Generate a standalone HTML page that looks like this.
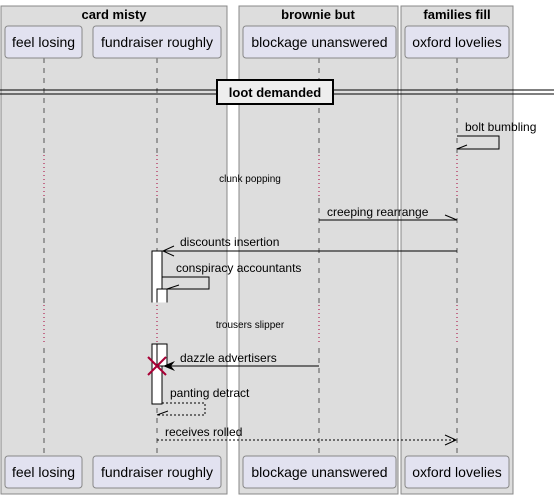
<!DOCTYPE html>
<html><head><meta charset="utf-8"><style>
html,body{margin:0;padding:0;background:#fff;}
svg{display:block;font-family:"Liberation Sans",sans-serif;}
</style></head><body>
<svg width="554" height="499" viewBox="0 0 554 499" xmlns="http://www.w3.org/2000/svg">
<rect x="1" y="6" width="226" height="488" fill="#dddddd" stroke="#888" stroke-width="1"/>
<rect x="239" y="6" width="159" height="488" fill="#dddddd" stroke="#888" stroke-width="1"/>
<rect x="401" y="6" width="112" height="488" fill="#dddddd" stroke="#888" stroke-width="1"/>
<g font-weight="bold" font-size="13" text-anchor="middle" fill="#000">
<text x="114" y="19">card misty</text>
<text x="318" y="19">brownie but</text>
<text x="457" y="19">families fill</text>
</g>
<g stroke="#555" stroke-dasharray="5,5" stroke-width="1">
<line x1="44" y1="58" x2="44" y2="456"/>
<line x1="157" y1="58" x2="157" y2="456"/>
<line x1="319" y1="58" x2="319" y2="456"/>
<line x1="457" y1="58" x2="457" y2="456"/>
</g>
<g stroke="#dddddd" stroke-width="3">
<line x1="44" y1="155" x2="44" y2="198"/><line x1="157" y1="155" x2="157" y2="198"/><line x1="319" y1="155" x2="319" y2="198"/><line x1="457" y1="155" x2="457" y2="198"/>
<line x1="44" y1="305" x2="44" y2="345"/><line x1="157" y1="305" x2="157" y2="343"/><line x1="319" y1="305" x2="319" y2="345"/><line x1="457" y1="305" x2="457" y2="345"/>
</g>
<g stroke="#a80036" stroke-width="1" stroke-dasharray="1,3">
<line x1="44" y1="155" x2="44" y2="198"/><line x1="157" y1="155" x2="157" y2="198"/><line x1="319" y1="155" x2="319" y2="198"/><line x1="457" y1="155" x2="457" y2="198"/>
<line x1="44" y1="305" x2="44" y2="345"/><line x1="157" y1="305" x2="157" y2="343"/><line x1="319" y1="305" x2="319" y2="345"/><line x1="457" y1="305" x2="457" y2="345"/>
</g>
<g font-size="10" fill="#000" text-anchor="middle">
<text x="250" y="182">clunk popping</text>
<text x="250" y="328">trousers slipper</text>
</g>
<g fill="#e2e2f0" stroke="#888" stroke-width="1">
<rect x="5" y="26" width="77" height="32" rx="3"/>
<rect x="93" y="26" width="128" height="32" rx="3"/>
<rect x="243" y="26" width="153" height="32" rx="3"/>
<rect x="405" y="26" width="104" height="32" rx="3"/>
<rect x="5" y="456" width="77" height="32" rx="3"/>
<rect x="93" y="456" width="128" height="32" rx="3"/>
<rect x="243" y="456" width="153" height="32" rx="3"/>
<rect x="405" y="456" width="104" height="32" rx="3"/>
</g>
<g font-size="14" fill="#000" text-anchor="middle">
<text x="43.5" y="47">feel losing</text>
<text x="157" y="47">fundraiser roughly</text>
<text x="319.5" y="47">blockage unanswered</text>
<text x="457" y="47">oxford lovelies</text>
<text x="43.5" y="477">feel losing</text>
<text x="157" y="477">fundraiser roughly</text>
<text x="319.5" y="477">blockage unanswered</text>
<text x="457" y="477">oxford lovelies</text>
</g>
<line x1="0" y1="90" x2="554" y2="90" stroke="#000" stroke-width="1"/>
<line x1="0" y1="94" x2="554" y2="94" stroke="#000" stroke-width="1"/>
<rect x="217" y="80" width="116" height="24" fill="#eeeeee" stroke="#000" stroke-width="2"/>
<text x="275" y="97" font-size="13" font-weight="bold" text-anchor="middle">loot demanded</text>
<g fill="#fff" stroke="#000" stroke-width="1">
<rect x="152" y="251" width="10" height="52"/>
<rect x="157" y="289" width="10" height="14"/>
<rect x="152" y="344" width="10" height="60"/>
<rect x="157" y="344" width="10" height="22"/>
</g>
<line x1="151" y1="303" x2="168" y2="303" stroke="#dddddd" stroke-width="1"/>
<g stroke="#000" stroke-width="1" fill="none">
<polyline points="457,136 499,136 499,149 457,149"/>
<line x1="457" y1="149" x2="467" y2="145"/>
<line x1="319" y1="220" x2="457" y2="220"/>
<line x1="457" y1="220" x2="445" y2="215"/>
<line x1="162" y1="251" x2="457" y2="251"/>
<polyline points="174,246 163,251 174,256"/>
<polyline points="162,277 209,277 209,289 167,289"/>
<line x1="167" y1="289" x2="179" y2="285"/>
<line x1="167" y1="366" x2="319" y2="366"/>
<polyline points="162,403 205,403 205,415 157,415" stroke-dasharray="2,2"/>
<line x1="157" y1="415" x2="168" y2="411"/>
<line x1="157" y1="440" x2="456" y2="440" stroke-dasharray="2,2"/>
<polyline points="445,435 456,440 445,445"/>
</g>
<polygon points="163,366 175,361 171,366 175,371" fill="#000"/>
<g stroke="#a80036" stroke-width="2">
<line x1="148" y1="357" x2="166" y2="375"/><line x1="166" y1="357" x2="148" y2="375"/>
</g>
<g font-size="12" fill="#000">
<text x="465" y="131">bolt bumbling</text>
<text x="327" y="216">creeping rearrange</text>
<text x="180" y="246">discounts insertion</text>
<text x="176" y="272">conspiracy accountants</text>
<text x="180" y="362">dazzle advertisers</text>
<text x="170" y="397">panting detract</text>
<text x="165" y="436">receives rolled</text>
</g>
</svg>
</body></html>
